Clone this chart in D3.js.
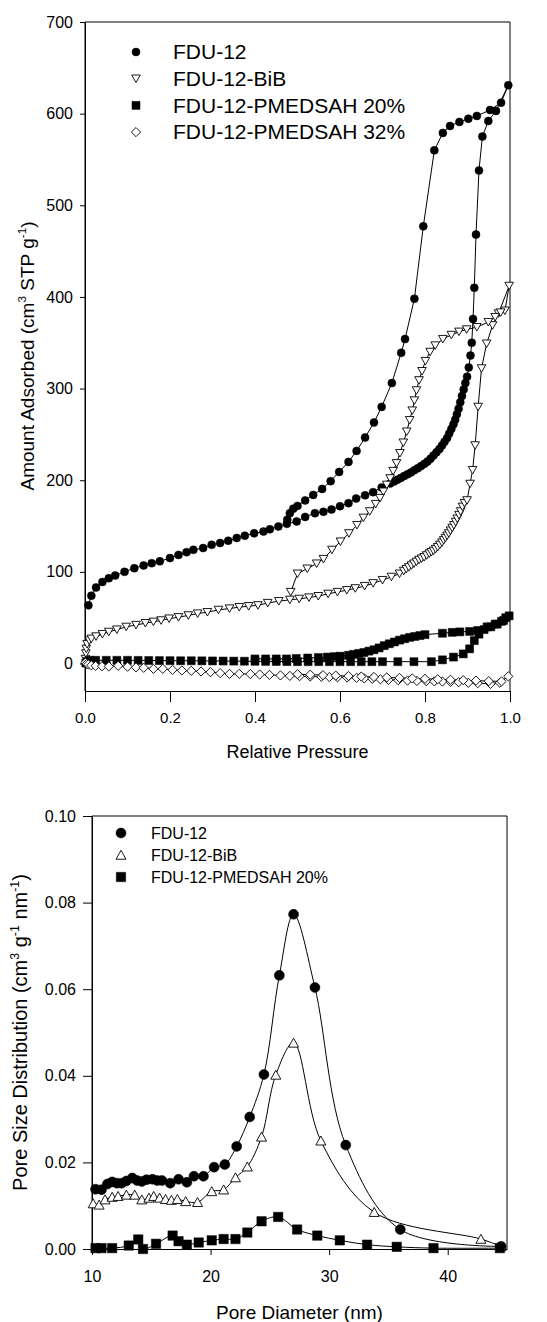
<!DOCTYPE html>
<html>
<head>
<meta charset="utf-8">
<script src="https://cdn.jsdelivr.net/npm/d3@7"></script>
<style>
  body { margin: 0; background: #fff; }
  svg { display: block; }
  text { font-family: "Liberation Sans", Arial, sans-serif; fill: #000; }
</style>
</head>
<body>
<svg id="chart" width="547" height="1322"></svg>
<script>
// ---------- Nitrogen isotherms: [relative pressure, amount adsorbed] ----------
const fdu12Ads = [[0.008,63.5],[0.015,74],[0.026,83],[0.041,89],[0.056,93],[0.071,96],[0.093,100],[0.116,104],[0.138,107],[0.157,109.5],[0.176,111.5],[0.200,115],[0.220,118.5],[0.239,121.5],[0.255,124],[0.278,126],[0.298,129.5],[0.318,131.5],[0.337,134],[0.357,137],[0.376,139.5],[0.398,142],[0.420,144],[0.435,146.5],[0.455,149.5],[0.475,152.5],[0.498,155],[0.518,160],[0.541,164],[0.561,165.5],[0.580,168],[0.600,171.5],[0.620,175],[0.638,180],[0.659,183.5],[0.678,187],[0.698,192],[0.718,196.5],[0.727,198.5],[0.735,200.5],[0.743,202.5],[0.751,204.5],[0.759,206.5],[0.767,208.5],[0.775,211],[0.783,213],[0.791,215.5],[0.799,218],[0.806,220.5],[0.813,223.5],[0.820,227],[0.827,230.5],[0.834,234],[0.840,238],[0.846,242],[0.852,246],[0.857,251],[0.862,256],[0.867,261],[0.871,266],[0.875,272],[0.879,278],[0.883,285],[0.887,292],[0.891,299],[0.895,306],[0.899,313],[0.903,323],[0.907,336],[0.910,350],[0.913,376],[0.916,410],[0.920,468],[0.927,538],[0.935,575],[0.949,592],[0.967,603],[0.996,631]];
const fdu12Des = [[0.979,612],[0.953,604],[0.922,597.5],[0.902,594.5],[0.881,591],[0.859,586.5],[0.842,579],[0.822,560],[0.796,477],[0.775,398],[0.753,354],[0.744,339],[0.722,306],[0.698,280],[0.680,263],[0.659,246.5],[0.639,232],[0.620,220],[0.598,209],[0.578,199],[0.558,190.5],[0.537,184],[0.518,178],[0.500,172],[0.490,169],[0.482,164],[0.476,157]];

const bibAds = [[0.001,5],[0.002,11],[0.003,16],[0.005,21],[0.010,25],[0.015,27],[0.026,29.5],[0.041,32],[0.056,34.5],[0.075,37],[0.097,40],[0.120,42],[0.142,44],[0.161,45.5],[0.179,47],[0.198,49],[0.220,50.5],[0.243,52.5],[0.265,54.5],[0.288,56],[0.314,58.5],[0.340,60],[0.363,61.5],[0.385,62.5],[0.407,63.5],[0.430,66],[0.456,68],[0.482,69.5],[0.504,70.5],[0.527,72],[0.549,73.5],[0.572,76],[0.594,78],[0.616,80],[0.636,82],[0.658,84.5],[0.678,87.5],[0.700,91],[0.721,94.5],[0.740,98],[0.750,101],[0.756,103],[0.762,105],[0.768,107],[0.774,109],[0.780,111],[0.786,113],[0.792,114.5],[0.798,116],[0.804,118],[0.810,120],[0.815,121.5],[0.820,123],[0.825,125],[0.830,127],[0.835,129.5],[0.840,132],[0.844,134.5],[0.848,137],[0.852,139.5],[0.856,142],[0.860,145],[0.864,148],[0.868,151],[0.872,154.5],[0.876,158],[0.880,162],[0.884,166],[0.888,171],[0.893,175],[0.899,178],[0.906,196],[0.912,211],[0.918,238],[0.925,280],[0.933,322],[0.945,349],[0.959,369],[0.973,382],[0.998,412]];
const bibDes = [[0.988,385],[0.978,383],[0.965,378],[0.949,372.5],[0.922,367],[0.898,364.5],[0.880,362],[0.862,358.5],[0.842,354],[0.824,347],[0.812,340],[0.801,330],[0.793,319],[0.786,309],[0.780,298],[0.775,287],[0.770,276],[0.764,265.5],[0.757,253],[0.749,241],[0.741,229.5],[0.733,218.5],[0.725,210],[0.718,202],[0.710,195],[0.702,187.5],[0.694,180.5],[0.684,174],[0.670,166],[0.655,159],[0.640,151],[0.621,142],[0.601,133],[0.581,124],[0.561,114],[0.545,109],[0.523,103.5],[0.500,98],[0.484,78]];

const pm20Ads = [[0.002,0.5],[0.006,2.5],[0.012,3.5],[0.025,3.5],[0.050,3.5],[0.075,3.5],[0.100,3.5],[0.125,3.4],[0.150,3.3],[0.175,3.2],[0.200,3.1],[0.225,3],[0.250,3],[0.275,2.9],[0.300,2.8],[0.325,2.7],[0.350,2.6],[0.375,2.5],[0.400,2.4],[0.425,2.3],[0.450,2.2],[0.475,2.1],[0.500,2],[0.525,2],[0.550,2],[0.575,2],[0.600,2],[0.625,2],[0.650,2],[0.675,2],[0.700,2],[0.736,2],[0.774,2],[0.815,2],[0.841,4],[0.867,7],[0.890,10.5],[0.905,16],[0.916,25],[0.927,32],[0.939,37],[0.955,40],[0.970,43],[0.985,47],[0.998,52]];
const pm20Des = [[0.990,50],[0.980,46],[0.965,43],[0.946,40],[0.924,36],[0.905,35],[0.882,34.5],[0.864,34],[0.841,33],[0.800,31.5],[0.788,30.5],[0.776,29.5],[0.764,28.5],[0.752,27],[0.740,25.5],[0.728,23.5],[0.716,21.5],[0.704,19.5],[0.692,17],[0.680,15],[0.668,13.5],[0.656,12],[0.644,11],[0.632,10],[0.620,9],[0.600,8],[0.587,7.5],[0.570,7],[0.549,6.5],[0.524,6],[0.497,5.5],[0.474,5],[0.450,5],[0.425,5],[0.400,5]];

const pm32Ads = [[0.001,1],[0.004,-0.5],[0.008,-1],[0.015,-2],[0.025,-2.5],[0.040,-3],[0.056,-3.2],[0.078,-2.5],[0.100,-3.5],[0.120,-4.2],[0.138,-4.7],[0.161,-5.8],[0.183,-5.8],[0.206,-6.9],[0.228,-7.6],[0.250,-8],[0.273,-8.7],[0.295,-9.4],[0.318,-10.5],[0.340,-11.3],[0.363,-11.3],[0.389,-11.5],[0.411,-12],[0.434,-12.4],[0.460,-13],[0.482,-13.5],[0.505,-13.8],[0.530,-14.2],[0.556,-14.5],[0.575,-14.8],[0.594,-15],[0.617,-15.3],[0.639,-15.6],[0.657,-16.2],[0.676,-16.7],[0.695,-17.2],[0.714,-17.8],[0.737,-18.2],[0.759,-18.6],[0.781,-19],[0.803,-19.3],[0.822,-19.5],[0.841,-19.7],[0.860,-20],[0.879,-20.4],[0.902,-21],[0.924,-21.5],[0.954,-22.2],[0.976,-21],[0.996,-14]];
const pm32Des = [[0.980,-19.5],[0.950,-19.2],[0.920,-18.7],[0.890,-18.2],[0.860,-17.7],[0.830,-17.2],[0.800,-16.7],[0.770,-16.2],[0.740,-15.7],[0.710,-15.2],[0.680,-14.7],[0.650,-14.2],[0.620,-13.7],[0.590,-13.2],[0.560,-12.7],[0.530,-12.2],[0.500,-11.7]];

const isoLegend = ["FDU-12", "FDU-12-BiB", "FDU-12-PMEDSAH 20%", "FDU-12-PMEDSAH 32%"];
const isoXTicks = [0, 0.2, 0.4, 0.6, 0.8, 1.0];
const isoYTicks = [0, 100, 200, 300, 400, 500, 600, 700];

// ---------- Pore size distributions: [pore diameter (nm), dV/dD] ----------
const psdFdu12 = [[10.3,0.0138],[10.8,0.0137],[11.3,0.0150],[11.7,0.0155],[12.1,0.0152],[12.5,0.0152],[12.9,0.0157],[13.4,0.0164],[13.8,0.0158],[14.2,0.0156],[14.6,0.0160],[15.1,0.0161],[15.5,0.0158],[15.9,0.0158],[16.6,0.0152],[17.3,0.0161],[18.0,0.0154],[18.6,0.0168],[19.4,0.0168],[20.3,0.0189],[21.2,0.0195],[22.2,0.0237],[23.3,0.0305],[24.5,0.0403],[25.8,0.0632],[27.0,0.0773],[28.8,0.0604],[31.4,0.0240],[36.0,0.0045],[44.5,0.0006]];
const psdBib = [[10.1,0.0105],[10.6,0.0102],[11.1,0.0114],[11.7,0.0120],[12.2,0.0122],[12.9,0.0125],[13.6,0.0125],[14.2,0.0114],[14.8,0.0118],[15.2,0.0122],[15.7,0.0118],[16.2,0.0115],[16.7,0.0113],[17.2,0.0115],[17.9,0.0110],[18.9,0.0108],[20.1,0.0133],[21.1,0.0137],[22.1,0.0165],[23.1,0.0190],[24.3,0.0259],[25.5,0.0402],[27.0,0.0476],[29.3,0.0250],[33.8,0.0085],[42.8,0.0023],[44.5,0.0006]];
const psdPm20 = [[10.3,0.0002],[10.8,0.0002],[11.7,0.0002],[13.1,0.0008],[13.9,0.0022],[14.3,0.0000],[15.4,0.0012],[16.8,0.0031],[17.3,0.0018],[18.0,0.0010],[19.0,0.0015],[20.1,0.0020],[21.1,0.0023],[22.1,0.0023],[23.1,0.0038],[24.3,0.0064],[25.7,0.0074],[27.3,0.0045],[29.0,0.0031],[30.9,0.0020],[33.2,0.0010],[35.7,0.0005],[38.8,0.0002],[44.4,0.0002]];

const psdLegend = ["FDU-12", "FDU-12-BiB", "FDU-12-PMEDSAH 20%"];
const psdXTicks = [10, 20, 30, 40];
const psdYTicks = [0, 0.02, 0.04, 0.06, 0.08, 0.10];

// ---------- marker shapes ----------
const shapes = {
  circle:  r => `M${-r},0A${r},${r} 0 1,0 ${r},0A${r},${r} 0 1,0 ${-r},0Z`,
  triDown: s => `M${-s},${-s*0.85}L${s},${-s*0.85}L0,${s*0.9}Z`,
  triUp:   s => `M${-s},${s*0.85}L${s},${s*0.85}L0,${-s*0.95}Z`,
  square:  s => `M${-s},${-s}H${s}V${s}H${-s}Z`,
  diamond: s => `M0,${-s}L${s},0L0,${s}L${-s},0Z`
};

const svg = d3.select("#chart");

function drawMarkers(g, pts, x, y, shape, size, filled) {
  g.selectAll(null).data(pts).enter().append("path")
    .attr("d", shapes[shape](size))
    .attr("transform", d => `translate(${x(d[0])},${y(d[1])})`)
    .attr("fill", filled ? "#000" : "#fff")
    .attr("stroke", "#000")
    .attr("stroke-width", filled ? 0.5 : 0.9);
}

function drawLine(g, pts, x, y, curve) {
  g.append("path").datum(pts)
    .attr("d", d3.line().x(d => x(d[0])).y(d => y(d[1])).curve(curve))
    .attr("fill", "none").attr("stroke", "#000").attr("stroke-width", 1);
}

function frame(g, x0, x1, y0, y1) {
  g.append("path").attr("d", `M${x0},${y1}V${y0}H${x1}V${y1}`)
    .attr("fill", "none").attr("stroke", "#000").attr("stroke-width", 1);
}

// axis title with superscript pieces
function titleText(g, parts, size) {
  const t = g.append("text").attr("text-anchor", "middle").attr("font-size", size);
  let raised = false;
  parts.forEach(([s, sup]) => {
    const ts = t.append("tspan").text(s);
    if (sup) ts.attr("font-size", size * 0.62).attr("dy", -size * 0.42);
    else if (raised) ts.attr("dy", size * 0.42);
    raised = sup;
  });
  return t;
}

// ================= Isotherm panel =================
{
  const x = d3.scaleLinear().domain([0, 1]).range([85, 510]);
  const y = d3.scaleLinear().domain([-30, 700]).range([691, 22]);
  const g = svg.append("g");

  frame(g, 85, 510, 22, 691);

  const gx = g.append("g").attr("transform", "translate(0,691)")
    .call(d3.axisBottom(x).tickValues(isoXTicks).tickFormat(d3.format(".1f")).tickSizeInner(11).tickSizeOuter(0));
  gx.select(".domain").attr("stroke", "#000");
  gx.selectAll("text").attr("y", 27).attr("dy", "0.35em").attr("font-size", 15)
    .attr("font-family", "Liberation Sans, Arial, sans-serif");

  const gy = g.append("g").attr("transform", "translate(85,0)")
    .call(d3.axisLeft(y).tickValues(isoYTicks).tickFormat(d3.format("d")).tickSizeInner(5).tickSizeOuter(0).tickPadding(7));
  gy.select(".domain").attr("stroke", "#000");
  gy.selectAll("text").attr("font-size", 16).attr("font-family", "Liberation Sans, Arial, sans-serif");

  // each series: line through the adsorption then the desorption branch
  const series = [
    [fdu12Ads.concat(fdu12Des), "circle", 4, true],
    [bibAds.concat(bibDes), "triDown", 4.3, false],
    [pm20Ads.concat(pm20Des), "square", 4, true],
    [pm32Ads.concat(pm32Des), "diamond", 4.6, false]
  ];
  series.forEach(([pts, shape, size, filled]) => {
    const sg = g.append("g");
    drawLine(sg, pts, x, y, d3.curveLinear);
    drawMarkers(sg, pts, x, y, shape, size, filled);
  });

  const lg = g.append("g");
  isoLegend.forEach((name, i) => {
    const cy = 52 + i * 26.7;
    const [, shape, size, filled] = series[i];
    lg.append("path").attr("d", shapes[shape](size)).attr("transform", `translate(136,${cy})`)
      .attr("fill", filled ? "#000" : "#fff").attr("stroke", "#000").attr("stroke-width", filled ? 0.5 : 0.9);
    lg.append("text").attr("x", 173).attr("y", cy).attr("dy", "0.35em").attr("font-size", 21).text(name);
  });

  g.append("text").attr("x", 297.5).attr("y", 757.5).attr("text-anchor", "middle")
    .attr("font-size", 18).text("Relative Pressure");
  const ty = g.append("g").attr("transform", "translate(34,356) rotate(-90)");
  titleText(ty, [["Amount Adsorbed (cm", false], ["3", true], [" STP g", false], ["-1", true], [")", false]], 19);
}

// ================= Pore size distribution panel =================
{
  const x = d3.scaleLinear().domain([10, 45]).range([92, 507]);
  const y = d3.scaleLinear().domain([0, 0.10]).range([1249, 816]);
  const g = svg.append("g");

  frame(g, 92, 507, 816, 1249);

  const gx = g.append("g").attr("transform", "translate(0,1249)")
    .call(d3.axisBottom(x).tickValues(psdXTicks).tickFormat(d3.format("d")).tickSizeInner(6).tickSizeOuter(0));
  gx.select(".domain").attr("stroke", "#000");
  gx.selectAll("text").attr("y", 27.5).attr("dy", "0.35em").attr("font-size", 16)
    .attr("font-family", "Liberation Sans, Arial, sans-serif");

  const gy = g.append("g").attr("transform", "translate(92,0)")
    .call(d3.axisLeft(y).tickValues(psdYTicks).tickFormat(d3.format(".2f")).tickSizeInner(9).tickSizeOuter(0).tickPadding(7));
  gy.select(".domain").attr("stroke", "#000");
  gy.selectAll("text").attr("font-size", 16).attr("font-family", "Liberation Sans, Arial, sans-serif");

  const series = [
    [psdFdu12, "circle", 5, true],
    [psdBib, "triUp", 5, false],
    [psdPm20, "square", 4.7, true]
  ];
  series.forEach(([pts, shape, size, filled]) => {
    const sg = g.append("g");
    drawLine(sg, pts, x, y, d3.curveCatmullRom.alpha(0.5));
    drawMarkers(sg, pts, x, y, shape, size, filled);
  });

  const lg = g.append("g");
  psdLegend.forEach((name, i) => {
    const cy = 833 + i * 22;
    const [, shape, size, filled] = series[i];
    lg.append("path").attr("d", shapes[shape](size)).attr("transform", `translate(121,${cy})`)
      .attr("fill", filled ? "#000" : "#fff").attr("stroke", "#000").attr("stroke-width", filled ? 0.5 : 0.9);
    lg.append("text").attr("x", 151).attr("y", cy).attr("dy", "0.35em").attr("font-size", 16).text(name);
  });

  g.append("text").attr("x", 299.5).attr("y", 1318.5).attr("text-anchor", "middle")
    .attr("font-size", 19).text("Pore Diameter (nm)");
  const ty = g.append("g").attr("transform", "translate(27,1032.5) rotate(-90)");
  titleText(ty, [["Pore Size Distribution (cm", false], ["3", true], [" g", false], ["-1", true], [" nm", false], ["-1", true], [")", false]], 20);
}
</script>
</body>
</html>
